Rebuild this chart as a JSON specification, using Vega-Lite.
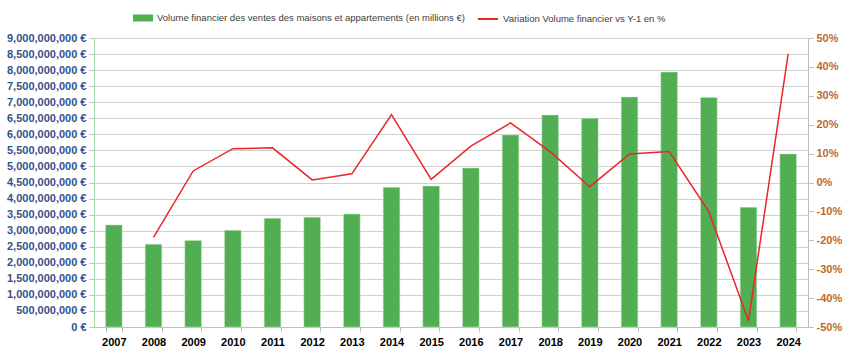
{
  "$schema": "https://vega.github.io/schema/vega-lite/v6.json",
  "width": 714,
  "height": 289,
  "autosize": {"type": "none"},
  "padding": {"left": 94, "top": 38, "right": 42, "bottom": 35},
  "background": "white",
  "config": {"view": {"stroke": null}, "font": "Liberation Sans"},
  "data": {"values": [
    {"year": "2007", "volume": 3180000000, "variation": null},
    {"year": "2008", "volume": 2580000000, "variation": -0.19},
    {"year": "2009", "volume": 2690000000, "variation": 0.04},
    {"year": "2010", "volume": 3010000000, "variation": 0.117},
    {"year": "2011", "volume": 3385000000, "variation": 0.12},
    {"year": "2012", "volume": 3420000000, "variation": 0.009},
    {"year": "2013", "volume": 3520000000, "variation": 0.03},
    {"year": "2014", "volume": 4350000000, "variation": 0.235},
    {"year": "2015", "volume": 4390000000, "variation": 0.011},
    {"year": "2016", "volume": 4950000000, "variation": 0.126},
    {"year": "2017", "volume": 5980000000, "variation": 0.206},
    {"year": "2018", "volume": 6600000000, "variation": 0.107},
    {"year": "2019", "volume": 6500000000, "variation": -0.0145},
    {"year": "2020", "volume": 7160000000, "variation": 0.099},
    {"year": "2021", "volume": 7940000000, "variation": 0.107},
    {"year": "2022", "volume": 7150000000, "variation": -0.101},
    {"year": "2023", "volume": 3730000000, "variation": -0.478},
    {"year": "2024", "volume": 5390000000, "variation": 0.445}
  ]},
  "encoding": {
    "x": {
      "field": "year", "type": "ordinal",
      "scale": {"paddingInner": 0.58, "paddingOuter": 0.29},
      "axis": {
        "title": null, "labelAngle": 0, "labelFontWeight": "bold", "labelFontSize": 11,
        "labelColor": "#000000", "tickBand": "extent", "tickColor": "#BFBFBF", "tickSize": 5,
        "domainColor": "#BFBFBF", "labelPadding": 4
      }
    }
  },
  "layer": [
    {
      "mark": {"type": "bar", "stroke": "#C8E8C8", "strokeWidth": 0.5},
      "encoding": {
        "y": {
          "field": "volume", "type": "quantitative",
          "scale": {"domain": [0, 9000000000], "nice": false},
          "axis": {
            "title": null,
            "values": [0, 500000000, 1000000000, 1500000000, 2000000000, 2500000000, 3000000000, 3500000000, 4000000000, 4500000000, 5000000000, 5500000000, 6000000000, 6500000000, 7000000000, 7500000000, 8000000000, 8500000000, 9000000000],
            "labelExpr": "format(datum.value, ',') + ' €'",
            "labelFontWeight": "bold", "labelFontSize": 11, "labelColor": "#34508F",
            "domainColor": "#A9D8A9", "tickColor": "#BFBFBF", "tickSize": 5, "labelPadding": 3,
            "grid": true, "gridColor": "#D0D0D0"
          }
        },
        "fill": {
          "datum": "Volume financier des ventes des maisons et appartements (en millions €)",
          "type": "nominal",
          "scale": {"range": ["#52AE52"]},
          "legend": {
            "orient": "none", "legendX": 39, "legendY": -30, "title": null, "padding": 0,
            "symbolType": "M-1,-0.35H1V0.35H-1Z", "symbolSize": 400, "symbolStrokeWidth": 0,
            "labelFont": "Liberation Sans", "labelFontSize": 9.5, "labelColor": "#404040", "labelLimit": 400
          }
        }
      }
    },
    {
      "mark": {"type": "line", "strokeWidth": 1.5},
      "encoding": {
        "y": {
          "field": "variation", "type": "quantitative",
          "scale": {"domain": [-0.5, 0.5], "nice": false},
          "axis": {
            "title": null, "orient": "right",
            "values": [-0.5, -0.4, -0.3, -0.2, -0.1, 0, 0.1, 0.2, 0.3, 0.4, 0.5],
            "labelExpr": "(datum.value < -0.001 ? '-' : '') + format(abs(datum.value) * 100, '.0f') + '%'",
            "labelFontWeight": "bold", "labelFontSize": 11, "labelColor": "#C0692B",
            "domainColor": "#BFBFBF", "tickColor": "#BFBFBF", "tickSize": 5, "labelPadding": 3,
            "grid": false
          }
        },
        "stroke": {
          "datum": "Variation Volume financier vs Y-1 en %",
          "type": "nominal",
          "scale": {"range": ["#E8262A"]},
          "legend": {
            "orient": "none", "legendX": 383, "legendY": -30, "title": null, "padding": 0,
            "symbolType": "stroke", "symbolSize": 400, "symbolStrokeWidth": 2,
            "labelFont": "Liberation Sans", "labelFontSize": 9.5, "labelColor": "#404040", "labelLimit": 400
          }
        }
      }
    }
  ],
  "resolve": {"scale": {"y": "independent"}}
}
